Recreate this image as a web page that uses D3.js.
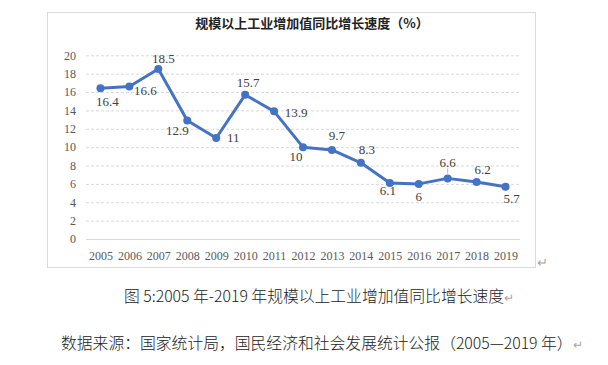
<!DOCTYPE html>
<html>
<head>
<meta charset="utf-8">
<script src="https://cdn.jsdelivr.net/npm/d3@7"></script>
<style>
  body { margin: 0; background: #fff; }
</style>
</head>
<body>
<div class="container"></div>
<script>
const years = ['2005', '2006', '2007', '2008', '2009', '2010', '2011', '2012', '2013', '2014', '2015', '2016', '2017', '2018', '2019'];
const growth = [16.4, 16.6, 18.5, 12.9, 11, 15.7, 13.9, 10, 9.7, 8.3, 6.1, 6, 6.6, 6.2, 5.7];
const yTicks = [0, 2, 4, 6, 8, 10, 12, 14, 16, 18, 20];

// label placement around each point, [dx, dy]
const labelOffsets = [[7, 13], [16, 4], [5, -11], [-10, 10], [17, -1], [3, -12], [22, 1], [-7, 9],
  [5, -14], [6, -13], [-2, 7], [0, 13], [0, -16], [6, -13], [6, 12]];

const width = 608;
const height = 365;
const plot = { left: 86, right: 520, top: 55.3, bottom: 239 };

const serif = '"Liberation Serif", "Times New Roman", serif';
const cjk = '"Noto Sans CJK SC", sans-serif';

const xScale = d3.scalePoint()
  .domain(years)
  .range([plot.left, plot.right])
  .padding(0.5);

const yScale = d3.scaleLinear()
  .domain([0, 20])
  .range([plot.bottom, plot.top]);

const svg = d3.select('.container')
  .append('svg')
  .attr('width', width)
  .attr('height', height);

// chart frame
svg.append('rect')
  .attr('x', 47.5)
  .attr('y', 12.5)
  .attr('width', 488)
  .attr('height', 255)
  .attr('fill', '#fff')
  .attr('stroke', '#d9d9d9');

svg.append('text')
  .attr('x', 312)
  .attr('y', 28)
  .attr('text-anchor', 'middle')
  .attr('font-family', cjk)
  .attr('font-weight', 'bold')
  .attr('font-size', 13)
  .attr('fill', '#222')
  .text('规模以上工业增加值同比增长速度（%）');

// grid
const yAxis = d3.axisLeft(yScale)
  .tickValues(yTicks)
  .tickSize(-(plot.right - plot.left))
  .tickPadding(10);

const gy = svg.append('g')
  .attr('transform', `translate(${plot.left},0)`)
  .call(yAxis);
gy.select('.domain').remove();
gy.selectAll('line')
  .attr('stroke', '#d9d9d9')
  .attr('stroke-dasharray', d => d === 0 ? null : '3,2');
gy.selectAll('text')
  .attr('font-family', serif)
  .attr('font-size', 12)
  .attr('fill', '#595959');

const xAxis = d3.axisBottom(xScale).tickSize(0).tickPadding(12);
const gx = svg.append('g')
  .attr('transform', `translate(0,${plot.bottom})`)
  .call(xAxis);
gx.select('.domain').remove();
gx.selectAll('text')
  .attr('font-family', serif)
  .attr('font-size', 12)
  .attr('fill', '#595959');

const line = d3.line()
  .x((d, i) => xScale(years[i]))
  .y(d => yScale(d));

svg.append('path')
  .attr('d', line(growth))
  .attr('fill', 'none')
  .attr('stroke', '#4472c4')
  .attr('stroke-width', 3)
  .attr('stroke-linejoin', 'round');

svg.append('g')
  .selectAll('circle')
  .data(growth)
  .enter()
  .append('circle')
  .attr('cx', (d, i) => xScale(years[i]))
  .attr('cy', d => yScale(d))
  .attr('r', 4)
  .attr('fill', '#4472c4');

// small leader line for 2017
svg.append('line')
  .attr('x1', xScale('2017'))
  .attr('x2', xScale('2017'))
  .attr('y1', yScale(6.6) - 10)
  .attr('y2', yScale(6.6) - 5)
  .attr('stroke', '#a6a6a6')
  .attr('stroke-width', 0.8);

svg.append('g')
  .selectAll('text')
  .data(growth)
  .enter()
  .append('text')
  .attr('x', (d, i) => xScale(years[i]) + labelOffsets[i][0])
  .attr('y', (d, i) => yScale(d) + labelOffsets[i][1])
  .attr('dy', '0.35em')
  .attr('text-anchor', 'middle')
  .attr('font-family', serif)
  .attr('font-size', 13)
  .attr('fill', '#404040')
  .text(d => d);

// paragraph marks and captions
const mark = '#a6a6a6';
svg.append('text')
  .attr('x', 537)
  .attr('y', 267)
  .attr('font-family', cjk)
  .attr('font-size', 13)
  .attr('fill', mark)
  .text('↵');

const cap1 = svg.append('text')
  .attr('x', 124)
  .attr('y', 302)
  .attr('font-family', cjk)
  .attr('font-weight', 300)
  .attr('font-size', 15.8)
  .attr('fill', '#222');
cap1.append('tspan').text('图 5:2005 年-2019 年规模以上工业增加值同比增长速度');
cap1.append('tspan').attr('fill', mark).attr('font-size', 12).text('↵');

const cap2 = svg.append('text')
  .attr('x', 61)
  .attr('y', 349)
  .attr('font-family', cjk)
  .attr('font-weight', 300)
  .attr('font-size', 15.8)
  .attr('fill', '#222');
cap2.append('tspan').text('数据来源：国家统计局，国民经济和社会发展统计公报（2005—2019 年）');
cap2.append('tspan').attr('fill', mark).attr('font-size', 12).text('↵');
</script>
</body>
</html>
